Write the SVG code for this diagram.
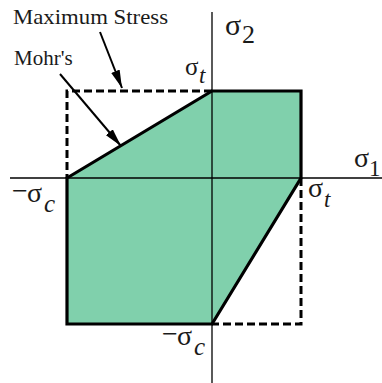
<svg xmlns="http://www.w3.org/2000/svg" width="382" height="383" viewBox="0 0 382 383">
<style>
.lbl{font-family:"Liberation Serif","Times New Roman",serif;fill:#1a1a1a}
.sym{font-family:"Liberation Serif","Times New Roman",serif;fill:#1a1a1a;font-size:28px}
.sub{font-size:23px}
.it{font-style:italic}
.dash{fill:none;stroke:#000;stroke-width:3;stroke-dasharray:8,4}
.axis{stroke:#000;stroke-width:1.3}
.arr{stroke:#000;stroke-width:2;fill:none;marker-end:url(#ah)}
</style>
<defs>
<marker id="ah" viewBox="0 0 18 9" refX="18" refY="4.5" markerWidth="18" markerHeight="9" markerUnits="userSpaceOnUse" orient="auto">
<path d="M0,0 L18,4.5 L0,9 Z" fill="#000"/>
</marker>
</defs>
<rect width="382" height="383" fill="#fff"/>
<g id="region">
<polygon points="67,178 212,91 301,91 301,178 212,324 67,324" fill="#80d0ac" stroke="#000" stroke-width="3.2" stroke-linejoin="miter"/>
</g>
<g id="max-stress-box">
<polyline class="dash" points="212,91 67,91 67,178"/>
<polyline class="dash" points="301,178 301,324 212,324"/>
</g>
<g id="axes">
<line class="axis" x1="10" y1="178" x2="382" y2="178"/>
<line class="axis" x1="212" y1="12" x2="212" y2="383"/>
</g>
<g id="connectors">
<line class="arr" x1="100" y1="32" x2="122" y2="88"/>
<line class="arr" x1="60" y1="74" x2="121" y2="146"/>
</g>
<g id="labels">
<text class="lbl" x="13" y="24" font-size="21" textLength="155" lengthAdjust="spacingAndGlyphs">Maximum Stress</text>
<text class="lbl" x="14" y="65" font-size="21">Mohr's</text>
<text class="sym"><tspan x="225" y="35" style="font-size:30px">σ</tspan><tspan class="sub" x="242" y="43" style="font-size:26px">2</tspan></text>
<text class="sym"><tspan x="185" y="75" style="font-size:25px">σ</tspan><tspan class="sub it" x="199" y="83">t</tspan></text>
<text class="sym"><tspan x="354" y="167">σ</tspan><tspan class="sub" x="369" y="176">1</tspan></text>
<text class="sym"><tspan x="308" y="197">σ</tspan><tspan class="sub it" x="324" y="207">t</tspan></text>
<text class="sym"><tspan x="12" y="200">−</tspan><tspan x="27" y="202">σ</tspan><tspan class="sub it" x="44" y="212" style="font-size:25px">c</tspan></text>
<text class="sym"><tspan x="162" y="343">−</tspan><tspan x="177" y="345">σ</tspan><tspan class="sub it" x="194" y="355" style="font-size:25px">c</tspan></text>
</g>
</svg>
